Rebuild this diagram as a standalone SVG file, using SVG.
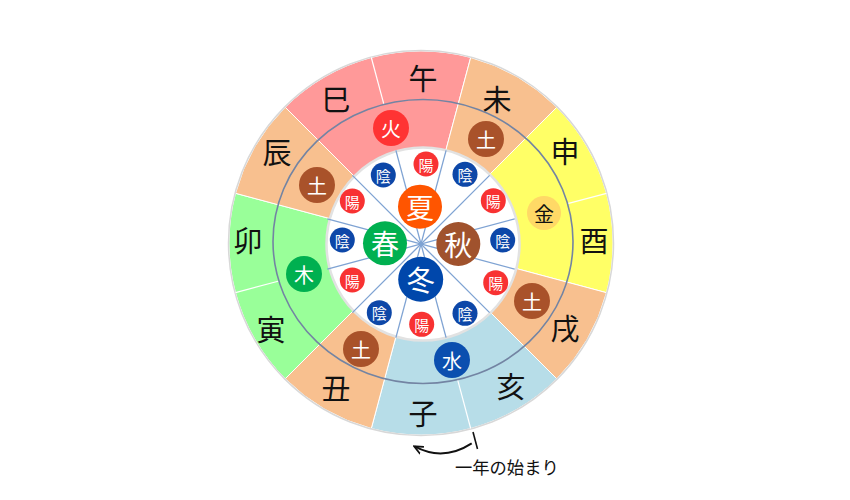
<svg xmlns="http://www.w3.org/2000/svg" width="850" height="500" viewBox="0 0 850 500">
<style>
.sec{stroke:#ffffff;stroke-width:1}
.pink{fill:#FF9999}.peach{fill:#F8C08F}.yellow{fill:#FFFF66}.blue{fill:#B7DDE8}.green{fill:#99FF99}
.sep{stroke:#ffffff;stroke-width:1.2}
.spoke{stroke:#7FA3D3;stroke-width:1.3}
.zod{font-family:"Noto Sans CJK JP","Noto Sans CJK SC",sans-serif;font-size:29px;fill:#111;text-anchor:middle;dominant-baseline:central}
.el{font-family:"Noto Sans CJK JP","Noto Sans CJK SC",sans-serif;font-size:20px;fill:#fff;text-anchor:middle;dominant-baseline:central}
.ssn{font-family:"Noto Sans CJK JP","Noto Sans CJK SC",sans-serif;font-size:28px;fill:#fff;text-anchor:middle;dominant-baseline:central}
.yy{font-family:"Noto Sans CJK JP","Noto Sans CJK SC",sans-serif;font-size:15px;fill:#fff;text-anchor:middle;dominant-baseline:central}
.yang{fill:#F83232}.yin{fill:#0D47A8}
.earth{fill:#A9522A}
</style>
<defs>
<marker id="ah" viewBox="0 0 10 10" refX="8" refY="5" markerWidth="10" markerHeight="10" orient="auto" markerUnits="userSpaceOnUse">
<path d="M0,1 L9,5 L0,9" fill="none" stroke="#111" stroke-width="1.8"/>
</marker>
</defs>
<rect width="850" height="500" fill="#ffffff"/>
<g id="sectors">
<path class="sec pink" d="M421,243 L285.2,107.2 A192,192 0 0 1 470.7,57.5 Z"/>
<path class="sec peach" d="M421,243 L470.7,57.5 A192,192 0 0 1 556.8,107.2 Z"/>
<path class="sec yellow" d="M421,243 L556.8,107.2 A192,192 0 0 1 606.5,292.7 Z"/>
<path class="sec peach" d="M421,243 L606.5,292.7 A192,192 0 0 1 556.8,378.8 Z"/>
<path class="sec blue" d="M421,243 L556.8,378.8 A192,192 0 0 1 371.3,428.5 Z"/>
<path class="sec peach" d="M421,243 L371.3,428.5 A192,192 0 0 1 285.2,378.8 Z"/>
<path class="sec green" d="M421,243 L285.2,378.8 A192,192 0 0 1 235.5,193.3 Z"/>
<path class="sec peach" d="M421,243 L235.5,193.3 A192,192 0 0 1 285.2,107.2 Z"/>
<circle cx="421" cy="243" r="192.5" fill="none" stroke="#D8D8D8" stroke-width="1.5"/>
</g>
<g id="connectors">
<line class="sep" x1="383.9" y1="104.4" x2="371.3" y2="57.5"/>
<line class="sep" x1="567.6" y1="203.7" x2="606.5" y2="193.3"/>
<line class="sep" x1="457.6" y1="379.7" x2="470.7" y2="428.5"/>
<line class="sep" x1="279" y1="281" x2="235.5" y2="292.7"/>
<ellipse cx="423" cy="241.5" rx="150" ry="142" fill="none" stroke="#7384A3" stroke-width="1.6"/>
<circle cx="423" cy="244" r="96.5" fill="#ffffff" stroke="#E2E2E2" stroke-width="2.5"/>
<line class="spoke" x1="446.1" y1="150.3" x2="395.9" y2="337.7"/>
<line class="spoke" x1="489.6" y1="175.4" x2="352.4" y2="312.6"/>
<line class="spoke" x1="514.7" y1="218.9" x2="327.3" y2="269.1"/>
<line class="spoke" x1="514.7" y1="269.1" x2="327.3" y2="218.9"/>
<line class="spoke" x1="489.6" y1="312.6" x2="352.4" y2="175.4"/>
<line class="spoke" x1="446.1" y1="337.7" x2="395.9" y2="150.3"/>
<line x1="473" y1="432" x2="477.5" y2="449" stroke="#111" stroke-width="1.6"/>
<path d="M471.7,443.3 Q443.3,461.6 415,446.7" fill="none" stroke="#111" stroke-width="2" marker-end="url(#ah)"/>
</g>
<g id="zodiac">
<text class="zod" x="423" y="77">午</text>
<text class="zod" x="336" y="98">巳</text>
<text class="zod" x="497" y="98">未</text>
<text class="zod" x="277" y="151">辰</text>
<text class="zod" x="565" y="150">申</text>
<text class="zod" x="248" y="239">卯</text>
<text class="zod" x="594" y="239">酉</text>
<text class="zod" x="271" y="328">寅</text>
<text class="zod" x="565" y="327">戌</text>
<text class="zod" x="336" y="387">丑</text>
<text class="zod" x="511" y="385">亥</text>
<text class="zod" x="423" y="412">子</text>
</g>
<g id="elements">
<g id="fire"><circle cx="391" cy="128" r="18" fill="#FF3333"/><text class="el" x="391" y="128">火</text></g>
<g id="earth1"><circle class="earth" cx="486" cy="139" r="18"/><text class="el" x="486" y="139">土</text></g>
<g id="metal"><circle cx="544" cy="213" r="17" fill="#FFD966"/><text class="el" x="544" y="213" style="fill:#111">金</text></g>
<g id="earth2"><circle class="earth" cx="532" cy="301" r="18"/><text class="el" x="532" y="301">土</text></g>
<g id="water"><circle cx="452" cy="360" r="18" fill="#0B4FAF"/><text class="el" x="452" y="360">水</text></g>
<g id="earth3"><circle class="earth" cx="361" cy="349" r="18"/><text class="el" x="361" y="349">土</text></g>
<g id="wood"><circle cx="304" cy="274" r="18" fill="#00B050"/><text class="el" x="304" y="274">木</text></g>
<g id="earth4"><circle class="earth" cx="317" cy="185" r="18"/><text class="el" x="317" y="185">土</text></g>
</g>
<g id="yinyang">
<g><circle class="yang" cx="426" cy="164" r="12.5"/><text class="yy" x="426" y="164">陽</text></g>
<g><circle class="yin" cx="383.3" cy="175" r="12.5"/><text class="yy" x="383.3" y="175">陰</text></g>
<g><circle class="yin" cx="465" cy="174.3" r="12.5"/><text class="yy" x="465" y="174.3">陰</text></g>
<g><circle class="yang" cx="352.3" cy="201" r="12.5"/><text class="yy" x="352.3" y="201">陽</text></g>
<g><circle class="yang" cx="493.3" cy="200.7" r="12.5"/><text class="yy" x="493.3" y="200.7">陽</text></g>
<g><circle class="yin" cx="342.3" cy="240" r="12.5"/><text class="yy" x="342.3" y="240">陰</text></g>
<g><circle class="yin" cx="502.7" cy="240" r="12.5"/><text class="yy" x="502.7" y="240">陰</text></g>
<g><circle class="yang" cx="352.3" cy="280" r="12.5"/><text class="yy" x="352.3" y="280">陽</text></g>
<g><circle class="yang" cx="495.7" cy="282.7" r="12.5"/><text class="yy" x="495.7" y="282.7">陽</text></g>
<g><circle class="yin" cx="379.3" cy="312.7" r="12.5"/><text class="yy" x="379.3" y="312.7">陰</text></g>
<g><circle class="yin" cx="465" cy="313.3" r="12.5"/><text class="yy" x="465" y="313.3">陰</text></g>
<g><circle class="yang" cx="421.7" cy="324.3" r="12.5"/><text class="yy" x="421.7" y="324.3">陽</text></g>
</g>
<g id="seasons">
<g id="summer"><circle cx="420" cy="206.7" r="22" fill="#FF5500"/><text class="ssn" x="420" y="206.7">夏</text></g>
<g id="spring"><circle cx="385" cy="243.3" r="22" fill="#00B050"/><text class="ssn" x="385" y="243.3">春</text></g>
<g id="autumn"><circle cx="458.3" cy="244" r="22" fill="#A0522D"/><text class="ssn" x="458.3" y="244">秋</text></g>
<g id="winter"><circle cx="420.7" cy="279.3" r="22.5" fill="#0047AB"/><text class="ssn" x="420.7" y="279.3">冬</text></g>
</g>
<g id="note">
<text x="455" y="474" font-family="'Noto Sans CJK JP','Noto Sans CJK SC',sans-serif" font-size="17.3" fill="#111">一年の始まり</text>
</g>
</svg>
